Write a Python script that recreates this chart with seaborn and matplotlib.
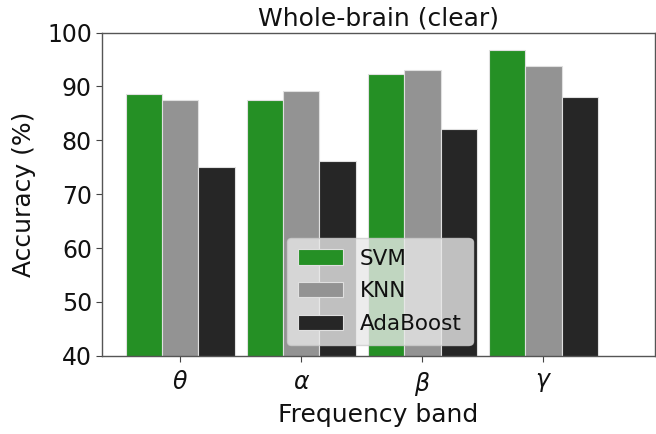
import matplotlib
matplotlib.use("Agg")
import matplotlib.pyplot as plt
import seaborn as sns
import pandas as pd

bands = [r"$\theta$", r"$\alpha$", r"$\beta$", r"$\gamma$"]
svm = [88.6, 87.4, 92.4, 96.7]
knn = [87.4, 89.1, 93.0, 93.8]
ada = [75.1, 76.2, 82.1, 88.0]
models = ["SVM", "KNN", "AdaBoost"]
colors = ["#259025", "#939393", "#262626"]

rows = []
for m, vals in zip(models, [svm, knn, ada]):
    for b, v in zip(bands, vals):
        rows.append({"band": b, "model": m, "acc": v})
df = pd.DataFrame(rows)

sns.set_style("white")
plt.rcParams['font.family'] = ['DejaVu Sans']
plt.rcParams['text.color'] = '#111111'
plt.rcParams['axes.labelcolor'] = '#111111'
plt.rcParams['xtick.color'] = '#111111'
plt.rcParams['ytick.color'] = '#111111'
fig, ax = plt.subplots(figsize=(6.56, 4.34), dpi=100)
sns.barplot(data=df, x="band", y="acc", hue="model", hue_order=models,
            palette=colors, width=0.9, edgecolor="#e0e0e0", linewidth=0.8,
            saturation=1, ax=ax)
ax.set_ylim(40, 100)
ax.set_xlim(-0.65, 3.92)
ax.set_yticks([40, 50, 60, 70, 80, 90, 100])
ax.tick_params(axis='y', labelsize=17, length=4, pad=3, color="#444444", left=True)
ax.tick_params(axis='x', labelsize=17, length=4, pad=6, color="#444444", bottom=True)
ax.set_xlabel("Frequency band", fontsize=18, labelpad=4)
ax.set_ylabel("Accuracy (%)", fontsize=18, labelpad=8)
ax.set_title("Whole-brain (clear)", fontsize=18, pad=5)
for s in ax.spines.values():
    s.set_color("#555555")
    s.set_linewidth(1.0)
leg = ax.legend(loc="lower center", bbox_to_anchor=(0.503, 0.0), fontsize=15.5,
                frameon=True, facecolor="#e8e8e8", framealpha=0.8, edgecolor="#cccccc",
                handlelength=2.1, handletextpad=0.8, labelspacing=0.6, borderpad=0.5)
fig.subplots_adjust(left=0.155, right=0.998, top=0.925, bottom=0.18)
fig.savefig("out.png", dpi=100)
